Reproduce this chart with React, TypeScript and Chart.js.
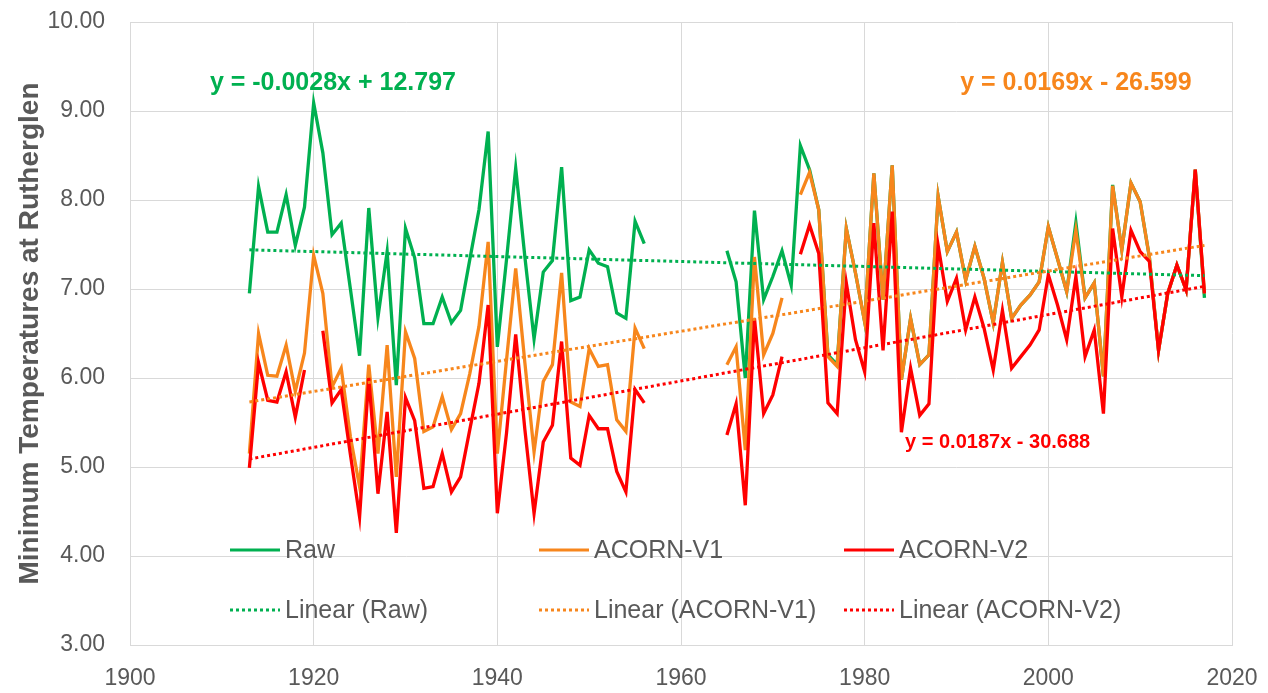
import React, { useEffect, useRef } from "react";
import { Chart, registerables } from "chart.js";

Chart.register(...registerables);

// ---- Data ----
const years: number[] = Array.from({ length: 105 }, (_, i) => 1913 + i);

const rawValues: (number | null)[] = [
  6.95, 8.15, 7.64, 7.64, 8.06, 7.49, 7.92, 9.09, 8.53, 7.61,
  7.74, 7.0, 6.25, 7.91, 6.68, 7.42, 5.92, 7.68, 7.35, 6.61,
  6.61, 6.91, 6.62, 6.76, 7.33, 7.89, 8.77, 6.35, 7.33, 8.36,
  7.36, 6.44, 7.19, 7.32, 8.37, 6.87, 6.91, 7.44, 7.29, 7.25,
  6.73, 6.67, 7.76, 7.51,
  null, null, null, null, null, null, null, null,
  7.43, 7.08, 6.0, 7.88, 6.88, 7.14, 7.43, 7.04, 8.61, 8.34,
  7.89, 6.26, 6.15, 7.68, 7.18, 6.63, 8.3, 6.88, 8.39, 5.98,
  6.67, 6.15, 6.26, 8.04, 7.42, 7.64, 7.1, 7.48, 7.12, 6.62,
  7.3, 6.67, 6.82, 6.93, 7.08, 7.7, 7.34, 6.97, 7.75, 6.9,
  7.07, 6.02, 8.17, 7.44, 8.19, 7.98, 7.36, 6.31, 6.95, 7.27,
  6.99, 8.34, 6.9,
];

const acornV1Values: (number | null)[] = [
  5.15, 6.5, 6.03, 6.02, 6.37, 5.85, 6.28, 7.38, 6.95, 5.9,
  6.11, 5.34, 4.78, 6.15, 5.15, 6.37, 4.89, 6.52, 6.22, 5.4,
  5.45, 5.79, 5.42, 5.6, 6.05, 6.58, 7.53, 5.15, 6.2, 7.23,
  6.17, 5.17, 5.96, 6.15, 7.18, 5.73, 5.68, 6.33, 6.13, 6.15,
  5.53, 5.4, 6.56, 6.33,
  null, null, null, null, null, null, null, null,
  6.15, 6.35, 5.19, 7.36, 6.26, 6.5, 6.9, null, 8.06, 8.31,
  7.89, 6.24, 6.13, 7.68, 7.18, 6.63, 8.3, 6.88, 8.39, 5.98,
  6.67, 6.15, 6.26, 8.04, 7.42, 7.64, 7.1, 7.48, 7.12, 6.62,
  7.3, 6.67, 6.82, 6.93, 7.08, 7.7, 7.34, 6.97, 7.66, 6.9,
  7.07, 6.02, 8.16, 7.44, 8.19, 7.98, 7.36, 6.31, 6.95, 7.27,
  6.99, 8.34, 6.95,
];

const acornV2Values: (number | null)[] = [
  4.99, 6.17, 5.75, 5.73, 6.07, 5.56, 6.09, null, 6.53, 5.72,
  5.87, 5.14, 4.44, 6.0, 4.7, 5.62, 4.26, 5.78, 5.52, 4.76,
  4.78, 5.15, 4.72, 4.89, 5.42, 5.94, 6.82, 4.48, 5.38, 6.49,
  5.42, 4.48, 5.28, 5.47, 6.41, 5.1, 5.02, 5.58, 5.43, 5.43,
  4.95, 4.72, 5.87, 5.72,
  null, null, null, null, null, null, null, null,
  5.36, 5.71, 4.57, 6.67, 5.6, 5.81, 6.24, null, 7.39, 7.72,
  7.4, 5.72, 5.6, 7.07, 6.43, 6.07, 7.74, 6.31, 7.87, 5.39,
  6.11, 5.58, 5.71, 7.49, 6.86, 7.12, 6.54, 6.91, 6.56, 6.09,
  6.76, 6.11, 6.24, 6.37, 6.54, 7.16, 6.82, 6.43, 7.14, 6.24,
  6.54, 5.6, 7.68, 6.91, 7.66, 7.42, 7.31, 6.31, 6.95, 7.27,
  6.99, 8.34, 6.95,
];

const trendYears: number[] = [1913, 2017];
const trendRaw: number[] = [7.44, 7.15];
const trendV1: number[] = [5.73, 7.49];
const trendV2: number[] = [5.09, 7.03];

const equationTexts: string[] = [
  "y = -0.0028x + 12.797",
  "y = 0.0169x - 26.599",
  "y = 0.0187x - 30.688",
];

const yAxisTitle = "Minimum Temperatures at Rutherglen";

// ---- Styles ----
const GREEN = "#00B050";
const ORANGE = "#F7861C";
const RED = "#FF0000";
const TEXT = "#595959";
const GRID = "#D9D9D9";
const FONT = "'Liberation Sans', Arial, Helvetica, sans-serif";

Chart.defaults.font.family = FONT;

const legendPlugin = {
  id: "customLegend",
  afterDraw(chart: any) {
    const ctx = chart.ctx;
    const ds = chart.data.datasets;
    const cols = [230, 539, 844];
    const rows = [550, 610];
    ctx.save();
    ctx.font = `25px ${FONT}`;
    ctx.textBaseline = "middle";
    ctx.textAlign = "left";
    for (let i = 0; i < 6; i++) {
      const d = ds[i];
      const x = cols[i % 3];
      const y = rows[Math.floor(i / 3)];
      ctx.strokeStyle = d.borderColor;
      ctx.lineWidth = 3;
      ctx.setLineDash(d.borderDash || []);
      ctx.beginPath();
      ctx.moveTo(x, y);
      ctx.lineTo(x + 50, y);
      ctx.stroke();
      ctx.setLineDash([]);
      ctx.fillStyle = TEXT;
      ctx.fillText(d.label, x + 55, y + 1);
    }
    ctx.restore();
  },
};

const equationPlugin = {
  id: "equations",
  afterDraw(chart: any) {
    const ctx = chart.ctx;
    const xs = chart.scales.x;
    const ys = chart.scales.y;
    const items = [
      { text: equationTexts[0], x: 1908.7, y: 9.31, color: GREEN, size: 25 },
      { text: equationTexts[1], x: 1990.4, y: 9.31, color: ORANGE, size: 25 },
      { text: equationTexts[2], x: 1984.4, y: 5.28, color: RED, size: 20 },
    ];
    ctx.save();
    ctx.textBaseline = "middle";
    ctx.textAlign = "left";
    for (const it of items) {
      ctx.font = `bold ${it.size}px ${FONT}`;
      ctx.fillStyle = it.color;
      ctx.fillText(it.text, xs.getPixelForValue(it.x), ys.getPixelForValue(it.y));
    }
    ctx.restore();
  },
};

function pts(vals: (number | null)[]) {
  return years.map((yr, i) => ({ x: yr, y: vals[i] }));
}
function trendPts(vals: number[]) {
  return trendYears.map((yr, i) => ({ x: yr, y: vals[i] }));
}

export default function App() {
  const ref = useRef<HTMLCanvasElement>(null);

  useEffect(() => {
    const canvas = ref.current;
    if (!canvas) return;
    const line = (label: string, data: any, color: string, order: number) => ({
      label,
      data,
      borderColor: color,
      backgroundColor: color,
      borderWidth: 3.3,
      pointRadius: 0,
      tension: 0,
      spanGaps: false,
      fill: false,
      order,
    });
    const dotted = (label: string, data: any, color: string, order: number) => ({
      ...line(label, data, color, order),
      borderWidth: 3,
      borderDash: [3, 3],
      borderCapStyle: "butt",
    });
    const chart = new Chart(canvas, {
      type: "line",
      data: {
        datasets: [
          line("Raw", pts(rawValues), GREEN, 6),
          line("ACORN-V1", pts(acornV1Values), ORANGE, 5),
          line("ACORN-V2", pts(acornV2Values), RED, 4),
          dotted("Linear (Raw)", trendPts(trendRaw), GREEN, 3),
          dotted("Linear (ACORN-V1)", trendPts(trendV1), ORANGE, 2),
          dotted("Linear (ACORN-V2)", trendPts(trendV2), RED, 1),
        ] as any,
      },
      options: {
        responsive: false,
        animation: false,
        layout: { padding: { top: 22, right: 36, left: 0, bottom: 0 } },
        plugins: {
          legend: { display: false },
          tooltip: { enabled: false },
        },
        scales: {
          x: {
            type: "linear",
            min: 1900,
            max: 2020,
            ticks: {
              stepSize: 20,
              callback: (v: any) => String(v),
              color: TEXT,
              font: { size: 23 },
              padding: 20,
              maxRotation: 0,
              autoSkip: false,
            },
            grid: { color: GRID, drawTicks: false, lineWidth: 1 },
            border: { color: GRID },
            afterFit: (s: any) => {
              s.height = 48;
              s.paddingLeft = 0;
              s.paddingRight = 0;
              s.paddingTop = 0;
              s.paddingBottom = 0;
            },
          },
          y: {
            type: "linear",
            min: 3,
            max: 10,
            ticks: {
              stepSize: 1,
              callback: (v: any) => Number(v).toFixed(2),
              color: TEXT,
              font: { size: 23 },
              padding: 25,
            },
            grid: { color: GRID, drawTicks: false, lineWidth: 1 },
            border: { color: GRID },
            title: {
              display: true,
              text: yAxisTitle,
              color: TEXT,
              font: { size: 28, weight: "bold" },
              padding: { top: 13, bottom: 0 },
            },
            afterFit: (s: any) => {
              s.width = 130;
              s.paddingLeft = 0;
              s.paddingRight = 0;
              s.paddingTop = 0;
              s.paddingBottom = 0;
            },
          },
        },
      } as any,
      plugins: [legendPlugin, equationPlugin],
    });
    return () => chart.destroy();
  }, []);

  return (
    <div style={{ position: "absolute", left: 0, top: 0, width: 1268, height: 693, background: "#fff" }}>
      <canvas ref={ref} width={1268} height={693} style={{ display: "block" }} />
    </div>
  );
}
